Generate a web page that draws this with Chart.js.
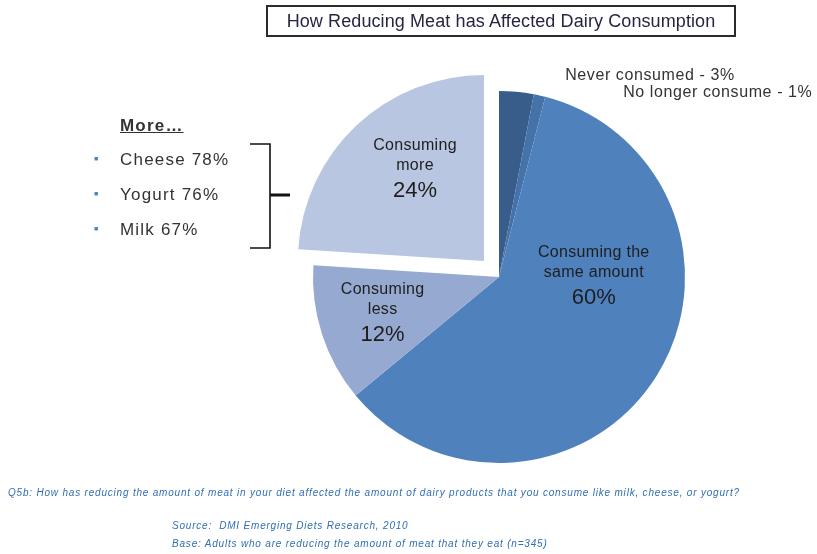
<!DOCTYPE html>
<html lang="en">
<head>
    <meta charset="UTF-8">
    <title>How Reducing Meat has Affected Dairy Consumption</title>
    <style>
        body { margin: 0; background: #fff; font-family: "Liberation Sans", Arial, sans-serif; }
        #page { position: relative; width: 817px; height: 554px; overflow: hidden; }
        #chartCanvas { position: absolute; left: 0; top: 0; }
        #title {
            position: absolute; left: 266px; top: 5px; width: 466px; height: 28px;
            border: 2px solid #2b2b2b; text-align: center; line-height: 28px;
            font-size: 18px; color: #262640; letter-spacing: 0.1px;
        }
        #more { position: absolute; left: 120px; top: 116px; font-size: 17px; color: #333; letter-spacing: 1.2px; }
        #more .head { font-weight: bold; text-decoration: underline; }
        #more ul { list-style: none; margin: 0; padding: 0; position: absolute; left: -26px; top: 33px; width: 190px; }
        #more li { height: 35px; line-height: 20px; white-space: nowrap; }
        #more li span.b { display: inline-block; width: 26px; color: #4f81bd; font-size: 7px; vertical-align: 4px; letter-spacing: 0; }
        .note { position: absolute; font-style: italic; color: #2f6fb4; font-size: 10px; white-space: nowrap; letter-spacing: 0.8px; }
        #bracket { position: absolute; left: 0; top: 0; }
    </style>
</head>
<body>
<div id="page">
    <canvas id="chartCanvas" width="817" height="554"></canvas>
    <div id="title">How Reducing Meat has Affected Dairy Consumption</div>
    <div id="more">
        <div class="head">More…</div>
        <ul id="moreList"></ul>
    </div>
    <svg id="bracket" width="817" height="554">
        <polyline points="250,144 270,144 270,248 250,248" fill="none" stroke="#111" stroke-width="1.6"/>
        <line x1="270" y1="195" x2="290" y2="195" stroke="#111" stroke-width="3"/>
    </svg>
    <div class="note" style="left:8px; top:487px;">Q5b: How has reducing the amount of meat in your diet affected the amount of dairy products that you consume like milk, cheese, or yogurt?</div>
    <div class="note" style="left:172px; top:520px;">Source:&nbsp; DMI Emerging Diets Research, 2010</div>
    <div class="note" style="left:172px; top:538px;">Base: Adults who are reducing the amount of meat that they eat (n=345)</div>
</div>

<script src="https://cdn.jsdelivr.net/npm/chart.js"></script>
<script>
    // data
    const categories = ['Never consumed', 'No longer consume', 'Consuming the same amount', 'Consuming less', 'Consuming more'];
    const shares = [3, 1, 60, 12, 24];
    const moreItems = ['Cheese', 'Yogurt', 'Milk'];
    const moreShares = [78, 76, 67];

    // styling
    const sliceColors = ['#385d8a', '#4672aa', '#4f81bd', '#95a9d1', '#b9c6e1'];
    const sliceOffsets = [0, 0, 0, 0, 88]; // chart.js moves an arc by offset / 4
    // label lines, angle (deg clockwise from top), distance as fraction of radius
    const labelLines = [
        ['Never consumed - 3%'],
        ['No longer consume - 1%'],
        ['Consuming the', 'same amount', '60%'],
        ['Consuming', 'less', '12%'],
        ['Consuming', 'more', '24%']
    ];
    const labelAngle = [36.8, 49.8, 87.6, 254.3, 323];
    const labelDist = [1.355, 1.54, 0.51, 0.65, 0.75];

    const list = document.getElementById('moreList');
    moreItems.forEach((name, i) => {
        const li = document.createElement('li');
        li.innerHTML = '<span class="b">■</span>' + name + ' ' + moreShares[i] + '%';
        list.appendChild(li);
    });

    const sliceLabels = {
        id: 'sliceLabels',
        afterDatasetsDraw(chart) {
            const ctx = chart.ctx;
            const arcs = chart.getDatasetMeta(0).data;
            ctx.save();
            ctx.textAlign = 'center';
            ctx.textBaseline = 'middle';
            arcs.forEach((arc, i) => {
                const a = (labelAngle[i] - 90) * Math.PI / 180;
                const r = arc.outerRadius * labelDist[i];
                const cx = arc.x + Math.cos(a) * r;
                const cy = arc.y + Math.sin(a) * r;
                const lines = labelLines[i];
                if (lines.length === 1) {
                    ctx.font = '16px "Liberation Sans", Arial, sans-serif';
                    ctx.letterSpacing = '0.6px';
                    ctx.fillStyle = '#333';
                    ctx.fillText(lines[0], cx, cy);
                } else {
                    ctx.fillStyle = '#1e1e1e';
                    ctx.font = '16px "Liberation Sans", Arial, sans-serif';
                    ctx.letterSpacing = '0.3px';
                    ctx.fillText(lines[0], cx, cy - 20);
                    ctx.fillText(lines[1], cx, cy);
                    ctx.font = '22px "Liberation Sans", Arial, sans-serif';
                    ctx.letterSpacing = '0px';
                    ctx.fillText(lines[2], cx, cy + 25);
                }
            });
            ctx.restore();
        }
    };

    new Chart(document.getElementById('chartCanvas').getContext('2d'), {
        type: 'pie',
        data: {
            labels: categories,
            datasets: [{
                data: shares,
                backgroundColor: sliceColors,
                borderWidth: 0,
                offset: sliceOffsets,
                clip: false
            }]
        },
        options: {
            responsive: false,
            animation: false,
            radius: 186,
            layout: { padding: { left: 290, right: 109, top: 0, bottom: 0 } },
            plugins: {
                legend: { display: false },
                tooltip: { enabled: false }
            }
        },
        plugins: [sliceLabels]
    });
</script>
</body>
</html>
